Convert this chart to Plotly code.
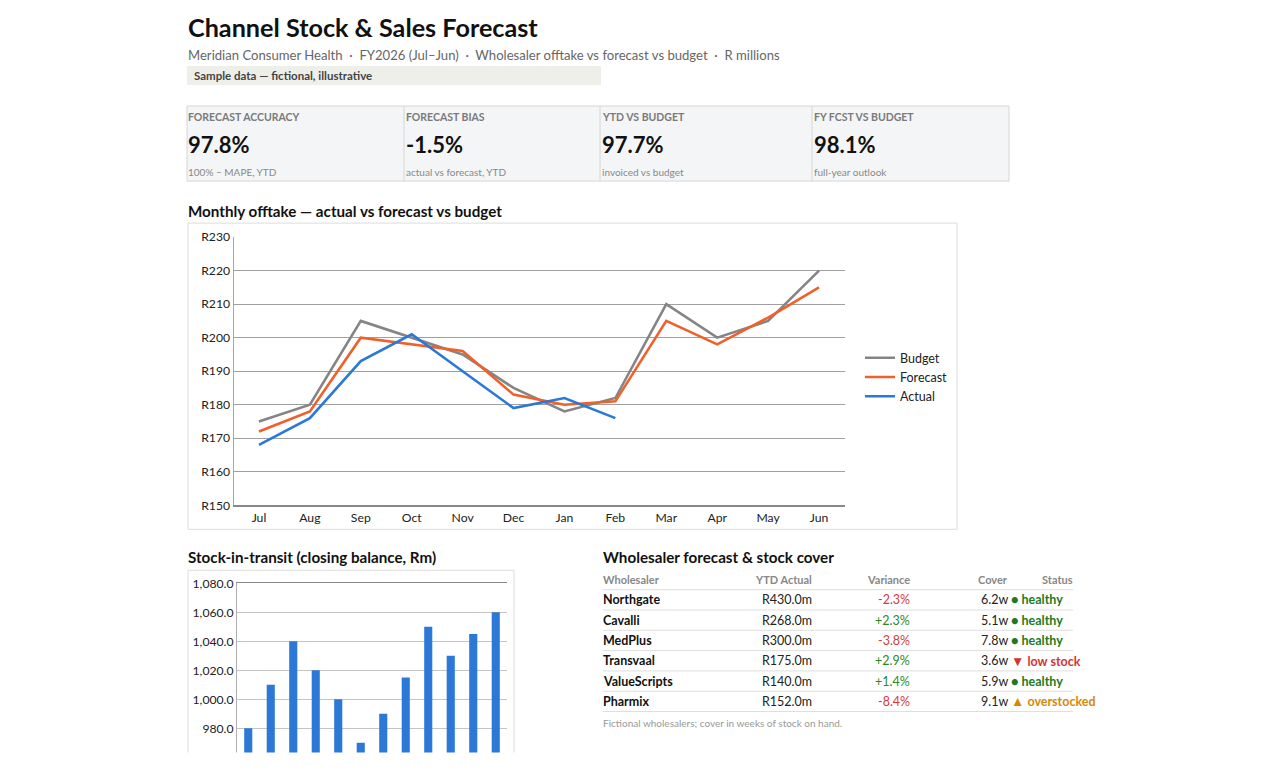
import plotly.graph_objects as go

W, H = 1280, 769
# vertical placement calibration of the rendered page (top offset, vertical scale)
Y0, KY = 8.0, 0.98
FONT = "Lato, 'Noto Sans', sans-serif"

# ---------------- data ----------------
months = ["Jul", "Aug", "Sep", "Oct", "Nov", "Dec", "Jan", "Feb", "Mar", "Apr", "May", "Jun"]
budget = [175, 180, 205, 200, 195, 185, 178, 182, 210, 200, 205, 220]
forecast = [172, 178, 200, 198, 196, 183, 180, 181, 205, 198, 206, 215]
actual = [168, 176, 193, 201, 190, 179, 182, 176]
stock_transit = [980, 1010, 1040, 1020, 1000, 970, 990, 1015, 1050, 1030, 1045, 1060]

kpi_labels = ["FORECAST ACCURACY", "FORECAST BIAS", "YTD VS BUDGET", "FY FCST VS BUDGET"]
kpi_values = ["97.8%", "-1.5%", "97.7%", "98.1%"]
kpi_notes = ["100% − MAPE, YTD", "actual vs forecast, YTD", "invoiced vs budget", "full-year outlook"]

wholesalers = ["Northgate", "Cavalli", "MedPlus", "Transvaal", "ValueScripts", "Pharmix"]
ytd_actual = [430.0, 268.0, 300.0, 175.0, 140.0, 152.0]
variance = [-2.3, 2.3, -3.8, 2.9, 1.4, -8.4]
cover_weeks = [6.2, 5.1, 7.8, 3.6, 5.9, 9.1]
status = ["healthy", "healthy", "healthy", "low stock", "healthy", "overstocked"]


def px(x):
    return x / W


def fy(y):
    # screen y -> figure pixel y
    return (y - Y0) / KY


def py(y):
    return 1 - fy(y) / H


fig = go.Figure()

# ---------------- line chart ----------------
fig.add_trace(go.Scatter(x=months, y=budget, name="Budget", mode="lines",
                         line=dict(color="#858585", width=2.6), xaxis="x", yaxis="y"))
fig.add_trace(go.Scatter(x=months, y=forecast, name="Forecast", mode="lines",
                         line=dict(color="#f0602a", width=2.6), xaxis="x", yaxis="y"))
fig.add_trace(go.Scatter(x=months[:len(actual)], y=actual, name="Actual", mode="lines",
                         line=dict(color="#2a78d8", width=2.6), xaxis="x", yaxis="y"))

# ---------------- bar chart ----------------
fig.add_trace(go.Bar(x=months, y=stock_transit, name="Stock-in-transit", showlegend=False,
                     marker=dict(color="#2b78d6", line=dict(width=0)),
                     xaxis="x2", yaxis="y2"))

shapes = []
annotations = []


def text(x, y, s, size=12, color="#222", weight=400, xanchor="left"):
    xx = x - 2 if xanchor == "left" else x + 2
    annotations.append(dict(x=px(xx), y=py(y), xref="paper", yref="paper", text=s,
                            showarrow=False, xanchor=xanchor, yanchor="middle",
                            font=dict(family=FONT, size=size, color=color, weight=weight)))


def rect(x0, y0, x1, y1, fill=None, line=None, layer="below", lw=1):
    shapes.append(dict(type="rect", xref="paper", yref="paper",
                       x0=px(x0), x1=px(x1), y0=py(y1), y1=py(y0),
                       fillcolor=fill if fill else "rgba(0,0,0,0)",
                       line=dict(color=line if line else "rgba(0,0,0,0)", width=lw if line else 0),
                       layer=layer))


def hline(x0, x1, y, color="#dddddd", w=1, layer="below"):
    shapes.append(dict(type="line", xref="paper", yref="paper", x0=px(x0), x1=px(x1),
                       y0=py(y), y1=py(y), line=dict(color=color, width=w), layer=layer))


def vline(x, y0, y1, color="#dddddd", w=1):
    shapes.append(dict(type="line", xref="paper", yref="paper", x0=px(x), x1=px(x),
                       y0=py(y0), y1=py(y1), line=dict(color=color, width=w), layer="below"))


# ---------------- header ----------------
text(188, 27, "Channel Stock &amp; Sales Forecast", size=25.2, color="#111", weight=700)
text(188, 55, "Meridian Consumer Health  ·  FY2026 (Jul–Jun)  ·  Wholesaler offtake vs forecast vs budget  ·  R millions",
     size=13.1, color="#666")
rect(187, 66, 601, 85, fill="#efefea")
text(194, 75.5, "Sample data — fictional, illustrative", size=11.5, color="#444", weight=700)

# ---------------- KPI cards ----------------
rect(187, 106, 1009, 181, fill="#f4f5f7", line="#d6d6d6")
kpi_x = [188, 406, 602, 814]
for i, xx in enumerate(kpi_x):
    if i > 0:
        vline(xx - 2, 106, 181, color="#d6d6d6")
    text(xx, 116.5, kpi_labels[i], size=10.5, color="#7a7a7a", weight=700)
    text(xx, 144, kpi_values[i], size=22, color="#111", weight=700)
    text(xx, 171.5, kpi_notes[i], size=10, color="#888")

# ---------------- section titles ----------------
text(188, 211, "Monthly offtake — actual vs forecast vs budget", size=15.2, color="#111", weight=700)
text(188, 557, "Stock-in-transit (closing balance, Rm)", size=15.2, color="#111", weight=700)
text(603, 557, "Wholesaler forecast &amp; stock cover", size=15.2, color="#111", weight=700)

# chart boxes
rect(188, 223, 957, 529, line="#dcdcdc")
rect(188, 570, 514, 790, line="#dcdcdc")

# ---------------- table ----------------
hy = 579
text(603, hy, "Wholesaler", size=11, color="#888", weight=700)
text(812, hy, "YTD Actual", size=11, color="#888", weight=700, xanchor="right")
text(910, hy, "Variance", size=11, color="#888", weight=700, xanchor="right")
text(1008, hy, "Cover", size=11, color="#888", weight=700, xanchor="right")
text(1073, hy, "Status", size=11, color="#888", weight=700, xanchor="right")
row_y = [599.5, 619.8, 640.1, 660.4, 680.7, 701]
status_style = {"healthy": ("●", "#1e7a1e", 12.5), "low stock": ("▼", "#d63333", 13.5),
                "overstocked": ("▲", "#d4890a", 13.5)}
hline(603, 1073, 589.4, color="#dedede")
for i, name in enumerate(wholesalers):
    y = row_y[i]
    text(603, y, name, size=12.5, color="#111", weight=700)
    text(812, y, f"R{ytd_actual[i]:.1f}m", size=12.5, color="#222", xanchor="right")
    v = variance[i]
    text(910, y, f"{v:+.1f}%", size=12.5, color="#d63a3a" if v < 0 else "#2a8a2a", xanchor="right")
    text(1008, y, f"{cover_weeks[i]:.1f}w", size=12.5, color="#222", xanchor="right")
    sym, col, ssz = status_style[status[i]]
    text(1011, y, f"<span style='font-size:{ssz}px'>{sym}</span> {status[i]}", size=12.5,
         color=col, weight=700)
    hline(603, 1073, y + 10.2, color="#dedede")
text(603, 723, "Fictional wholesalers; cover in weeks of stock on hand.", size=10, color="#999")

# clip bottom (container cut-off)
rect(0, 752, 1300, 820, fill="#ffffff", layer="above")

# bar axis: 1080 at screen 583, 1.45 px per unit (screen), bottom of figure
bar_scale = 1.45
bar_bottom_screen = Y0 + KY * H
bar_min = 1080 - (bar_bottom_screen - 583) / bar_scale

axis_font = dict(family=FONT, size=12.2, color="#222")
bar_font = dict(family=FONT, size=12.2, color="#222")
fig.update_layout(
    width=W, height=H, autosize=False,
    margin=dict(l=0, r=0, t=0, b=0),
    paper_bgcolor="#ffffff", plot_bgcolor="#ffffff",
    font=dict(family=FONT, size=12, color="#222"),
    shapes=shapes, annotations=annotations,
    bargap=0.64,
    showlegend=True,
    legend=dict(x=px(860), y=py(343), xanchor="left", yanchor="top",
                font=dict(family=FONT, size=12.5, color="#222"),
                bgcolor="rgba(0,0,0,0)", borderwidth=0, tracegroupgap=0,
                itemwidth=30),
    xaxis=dict(domain=[px(233.5), px(844.5)], anchor="y", type="category",
               categoryorder="array", categoryarray=months, range=[-0.5, 11.5],
               showgrid=False, showline=True, linecolor="#888888", linewidth=1.5,
               ticks="", tickfont=axis_font, fixedrange=True),
    yaxis=dict(domain=[py(505), py(237)], anchor="x", range=[150, 230],
               tickvals=[150, 160, 170, 180, 190, 200, 210, 220, 230],
               ticktext=["R150", "R160", "R170", "R180", "R190", "R200", "R210", "R220", "R230"],
               showgrid=True, gridcolor="#a0a0a0", gridwidth=1.2,
               showline=True, linecolor="#a8a8a8", linewidth=1,
               zeroline=False, ticks="", ticklabelstandoff=0, tickfont=axis_font, fixedrange=True),
    xaxis2=dict(domain=[px(237), px(507)], anchor="y2", type="category",
                categoryorder="array", categoryarray=months, range=[-0.5, 11.5],
                showgrid=False, showline=True, mirror=True, linecolor="#888888", linewidth=1.2,
                showticklabels=False, ticks="", fixedrange=True),
    yaxis2=dict(domain=[0, py(583)], anchor="x2", range=[bar_min, 1080],
                tickvals=[960, 980, 1000, 1020, 1040, 1060, 1080], tickformat=",.1f",
                showgrid=True, gridcolor="#c4c4c4", gridwidth=1.2,
                showline=True, linecolor="#b0b0b0", linewidth=1,
                zeroline=False, ticks="", ticklabelstandoff=0, tickfont=bar_font, fixedrange=True),
)

fig.write_html("out.html")
